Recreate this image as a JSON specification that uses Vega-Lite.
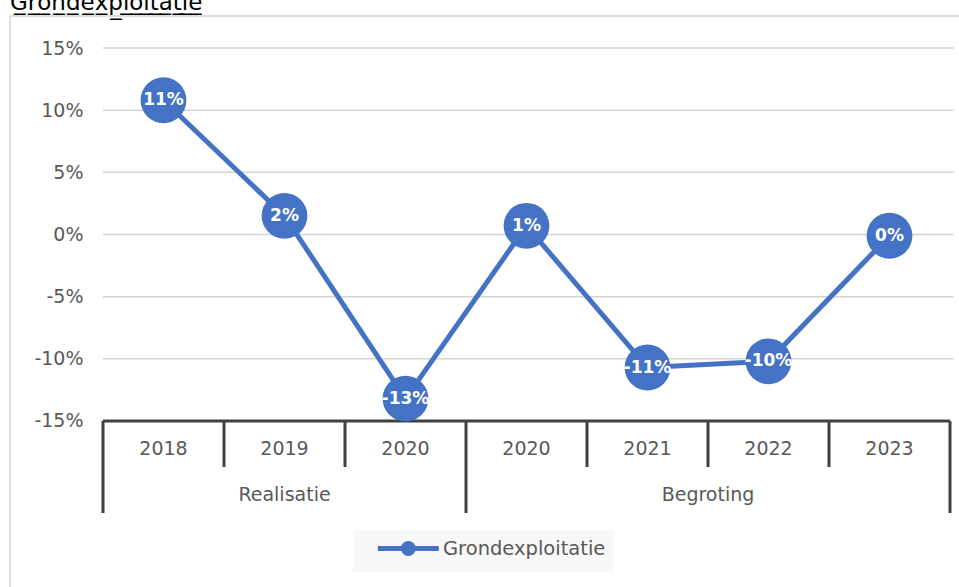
{
  "$schema": "https://vega.github.io/schema/vega-lite/v6.json",
  "width": 955,
  "height": 577,
  "autosize": {"type": "none"},
  "padding": {"left": 10, "top": 16, "right": -6, "bottom": -6},
  "background": "white",
  "title": {
    "text": "G\u0332r\u0332o\u0332n\u0332d\u0332e\u0332x\u0332p\u0332l\u0332o\u0332i\u0332t\u0332a\u0332t\u0332i\u0332e\u0332",
    "anchor": "start",
    "frame": "group",
    "font": "DejaVu Sans",
    "fontSize": 23,
    "fontWeight": "normal",
    "color": "#000000",
    "baseline": "alphabetic",
    "offset": 1,
    "dy": 18
  },
  "config": {
    "view": {"stroke": "#d4d4d4", "strokeWidth": 1.5},
    "locale": {"number": {"decimal": ".", "thousands": ",", "grouping": [3], "currency": ["$", ""], "minus": "-"}},
    "text": {"font": "DejaVu Sans"}
  },
  "datasets": {
    "main": [
      {"pos": 0.5, "year": "2018", "group": "Realisatie", "value": 0.108, "label": "11%", "series": "Grondexploitatie"},
      {"pos": 1.5, "year": "2019", "group": "Realisatie", "value": 0.015, "label": "2%", "series": "Grondexploitatie"},
      {"pos": 2.5, "year": "2020", "group": "Realisatie", "value": -0.132, "label": "-13%", "series": "Grondexploitatie"},
      {"pos": 3.5, "year": "2020", "group": "Begroting", "value": 0.007, "label": "1%", "series": "Grondexploitatie"},
      {"pos": 4.5, "year": "2021", "group": "Begroting", "value": -0.107, "label": "-11%", "series": "Grondexploitatie"},
      {"pos": 5.5, "year": "2022", "group": "Begroting", "value": -0.102, "label": "-10%", "series": "Grondexploitatie"},
      {"pos": 6.5, "year": "2023", "group": "Begroting", "value": -0.001, "label": "0%", "series": "Grondexploitatie"}
    ]
  },
  "layer": [
    {
      "data": {"values": [{"v": 0.15}, {"v": 0.10}, {"v": 0.05}, {"v": 0.0}, {"v": -0.05}, {"v": -0.10}]},
      "mark": {"type": "rule", "color": "#d4d4d4", "strokeWidth": 1.5},
      "encoding": {
        "x": {"datum": 0, "type": "quantitative", "scale": {"domain": [-0.7686, 7.124], "nice": false, "zero": false}, "axis": null},
        "x2": {"datum": 7.03},
        "y": {
          "field": "v", "type": "quantitative",
          "scale": {"domain": [-0.28835, 0.17574], "nice": false, "zero": false},
          "axis": {
            "values": [-0.15, -0.10, -0.05, 0, 0.05, 0.10, 0.15],
            "format": ".0%",
            "title": null,
            "domain": false,
            "ticks": false,
            "tickSize": 0,
            "grid": false,
            "offset": -93,
            "labelPadding": 20,
            "labelFont": "DejaVu Sans",
            "labelFontSize": 19,
            "labelColor": "#595959"
          }
        }
      }
    },
    {
      "data": {"values": [{"v": -0.15}]},
      "mark": {"type": "rule", "color": "#404040", "strokeWidth": 3},
      "encoding": {
        "x": {"datum": 0, "type": "quantitative"},
        "x2": {"datum": 7},
        "y": {"field": "v", "type": "quantitative"}
      }
    },
    {
      "data": {"values": [{"pos": 1}, {"pos": 2}, {"pos": 4}, {"pos": 5}, {"pos": 6}]},
      "mark": {"type": "rule", "color": "#404040", "strokeWidth": 3},
      "encoding": {
        "x": {"field": "pos", "type": "quantitative"},
        "y": {"datum": -0.15, "type": "quantitative"},
        "y2": {"datum": -0.187}
      }
    },
    {
      "data": {"values": [{"pos": 0}, {"pos": 3}, {"pos": 7}]},
      "mark": {"type": "rule", "color": "#404040", "strokeWidth": 3},
      "encoding": {
        "x": {"field": "pos", "type": "quantitative"},
        "y": {"datum": -0.15, "type": "quantitative"},
        "y2": {"datum": -0.224}
      }
    },
    {
      "data": {"name": "main"},
      "mark": {"type": "text", "font": "DejaVu Sans", "fontSize": 19, "color": "#595959", "baseline": "middle", "align": "center"},
      "encoding": {
        "x": {"field": "pos", "type": "quantitative"},
        "y": {"datum": -0.1725, "type": "quantitative"},
        "text": {"field": "year", "type": "nominal"}
      }
    },
    {
      "data": {"values": [{"pos": 1.5, "group": "Realisatie"}, {"pos": 5.0, "group": "Begroting"}]},
      "mark": {"type": "text", "font": "DejaVu Sans", "fontSize": 19, "color": "#595959", "baseline": "middle", "align": "center"},
      "encoding": {
        "x": {"field": "pos", "type": "quantitative"},
        "y": {"datum": -0.2095, "type": "quantitative"},
        "text": {"field": "group", "type": "nominal"}
      }
    },
    {
      "data": {"name": "main"},
      "mark": {"type": "line", "strokeWidth": 5},
      "encoding": {
        "x": {"field": "pos", "type": "quantitative"},
        "y": {"field": "value", "type": "quantitative"},
        "color": {
          "field": "series", "type": "nominal",
          "scale": {"range": ["#4472C4"]},
          "legend": {
            "orient": "none",
            "legendX": 343,
            "legendY": 514,
            "title": null,
            "symbolType": "M-1,0L7,0M2.34,0A0.66,0.66 0 1,0 3.66,0A0.66,0.66 0 1,0 2.34,0Z",
            "symbolSize": 232,
            "symbolOffset": 14,
            "symbolStrokeWidth": 5,
            "symbolFillColor": "#4472C4",
            "symbolStrokeColor": "#4472C4",
            "fillColor": "#f8f8f8",
            "padding": 8,
            "labelFont": "DejaVu Sans",
            "labelFontSize": 19.5,
            "labelColor": "#595959",
            "labelOffset": 47,
            "labelLimit": 400
          }
        }
      }
    },
    {
      "data": {"name": "main"},
      "mark": {"type": "point", "shape": "circle", "filled": true, "size": 2100, "opacity": 1, "color": "#4472C4"},
      "encoding": {
        "x": {"field": "pos", "type": "quantitative"},
        "y": {"field": "value", "type": "quantitative"}
      }
    },
    {
      "data": {"name": "main"},
      "mark": {"type": "text", "font": "DejaVu Sans", "fontSize": 17, "fontWeight": "bold", "color": "white", "baseline": "middle", "align": "center"},
      "encoding": {
        "x": {"field": "pos", "type": "quantitative"},
        "y": {"field": "value", "type": "quantitative"},
        "text": {"field": "label", "type": "nominal"}
      }
    }
  ]
}
